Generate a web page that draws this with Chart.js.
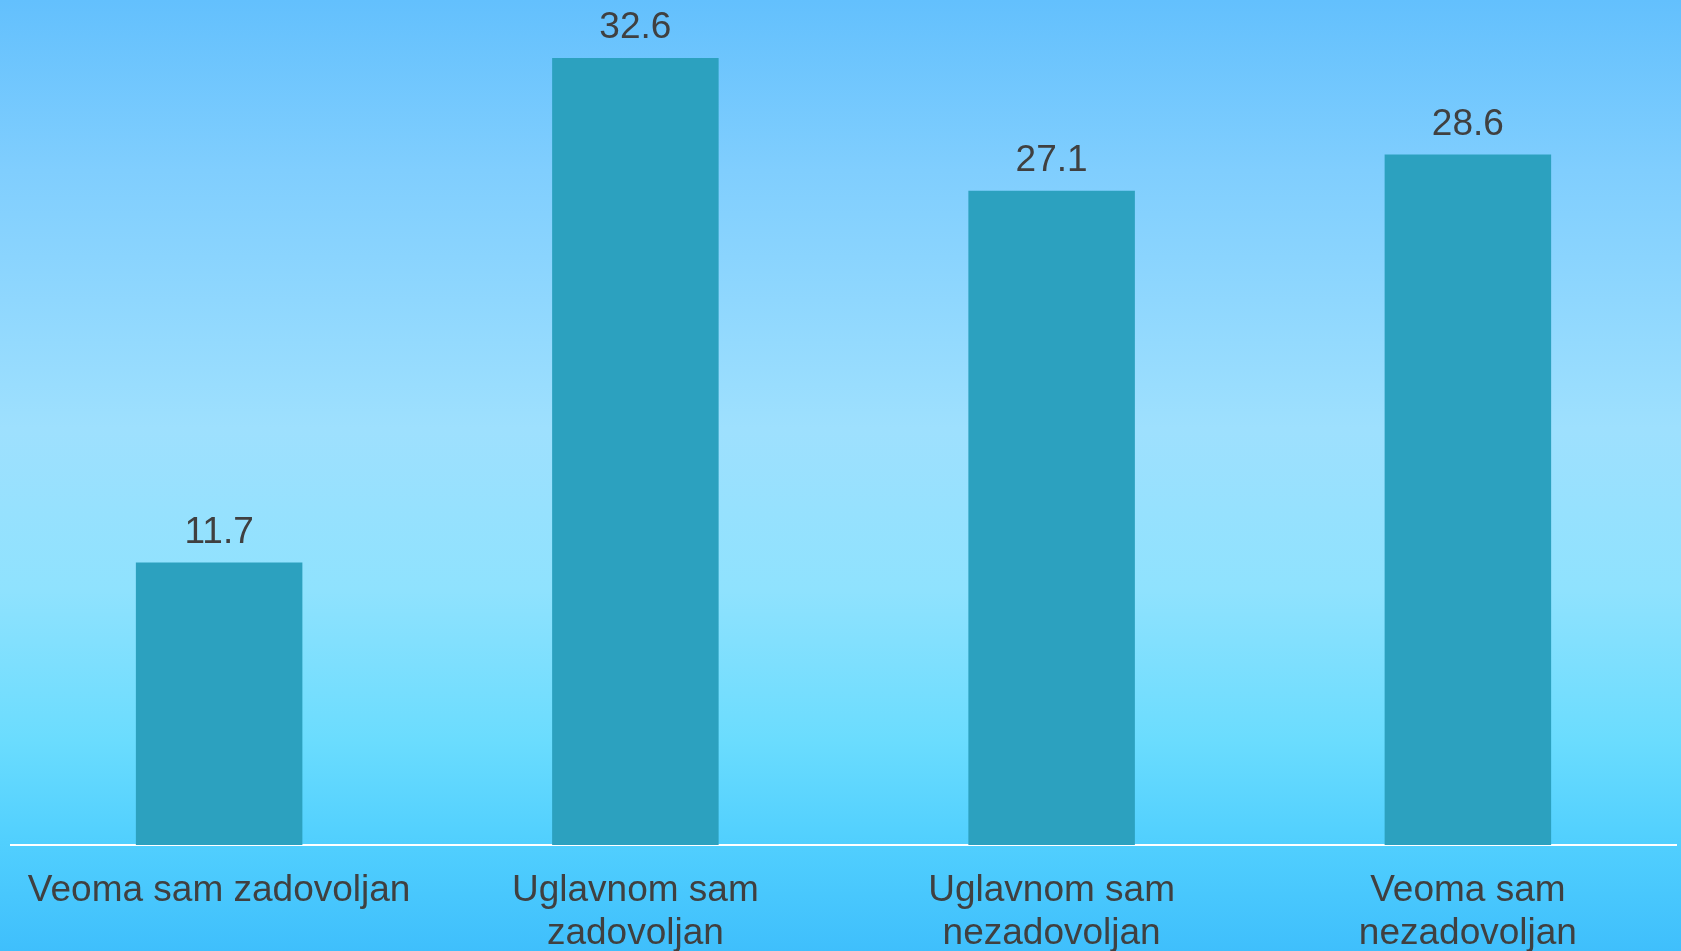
<!DOCTYPE html>
<html>
<head>
<meta charset="utf-8">
<script src="https://cdn.jsdelivr.net/npm/chart.js@4"></script>
<style>
  html, body { margin: 0; padding: 0; overflow: hidden; }
  #wrap {
    width: 1681px; height: 951px;
    background: linear-gradient(to bottom, #63c0fd 0%, #80cefe 18%, #9ee0fe 45%, #8fe2fe 62%, #6adcfe 78%, #52d0fe 88%, #3fbffc 100%);
  }
</style>
</head>
<body>
<div id="wrap"><canvas id="chart"></canvas></div>
<script>
const categories = [
    'Veoma sam zadovoljan',
    ['Uglavnom sam', 'zadovoljan'],
    ['Uglavnom sam', 'nezadovoljan'],
    ['Veoma sam', 'nezadovoljan']
];
const values = [11.7, 32.6, 27.1, 28.6];

const FONT = '"Liberation Sans", Arial, sans-serif';

// prints the value above each bar
const valueLabels = {
    id: 'valueLabels',
    afterDatasetsDraw(chart) {
        const ctx = chart.ctx;
        const meta = chart.getDatasetMeta(0);
        ctx.save();
        ctx.font = '37px ' + FONT;
        ctx.fillStyle = '#404040';
        ctx.textAlign = 'center';
        ctx.textBaseline = 'middle';
        meta.data.forEach((bar, i) => {
            ctx.fillText(values[i].toFixed(1), bar.x, bar.y - 30);
        });
        ctx.restore();
    }
};

document.addEventListener("DOMContentLoaded", () => {
    const ctx = document.getElementById('chart').getContext('2d');

    new Chart(ctx, {
        type: 'bar',
        data: {
            labels: categories,
            datasets: [{
                data: values,
                backgroundColor: '#2ca1bf',
                borderWidth: 0,
                barPercentage: 0.8,
                categoryPercentage: 0.5
            }]
        },
        options: {
            responsive: true,
            maintainAspectRatio: false,
            animation: false,
            layout: { padding: { left: 11, right: 5, top: 0, bottom: 0 } },
            plugins: {
                legend: { display: false },
                tooltip: { enabled: false }
            },
            scales: {
                x: {
                    grid: { display: false },
                    border: { color: '#ffffff', width: 2 },
                    afterFit: (scale) => { scale.height = 106; },
                    ticks: {
                        color: '#404040',
                        padding: 16,
                        maxRotation: 0,
                        autoSkip: false,
                        font: { family: FONT, size: 37, lineHeight: 1.16 }
                    }
                },
                y: {
                    display: false,
                    min: 0,
                    max: 35
                }
            }
        },
        plugins: [valueLabels]
    });
});
</script>
</body>
</html>
